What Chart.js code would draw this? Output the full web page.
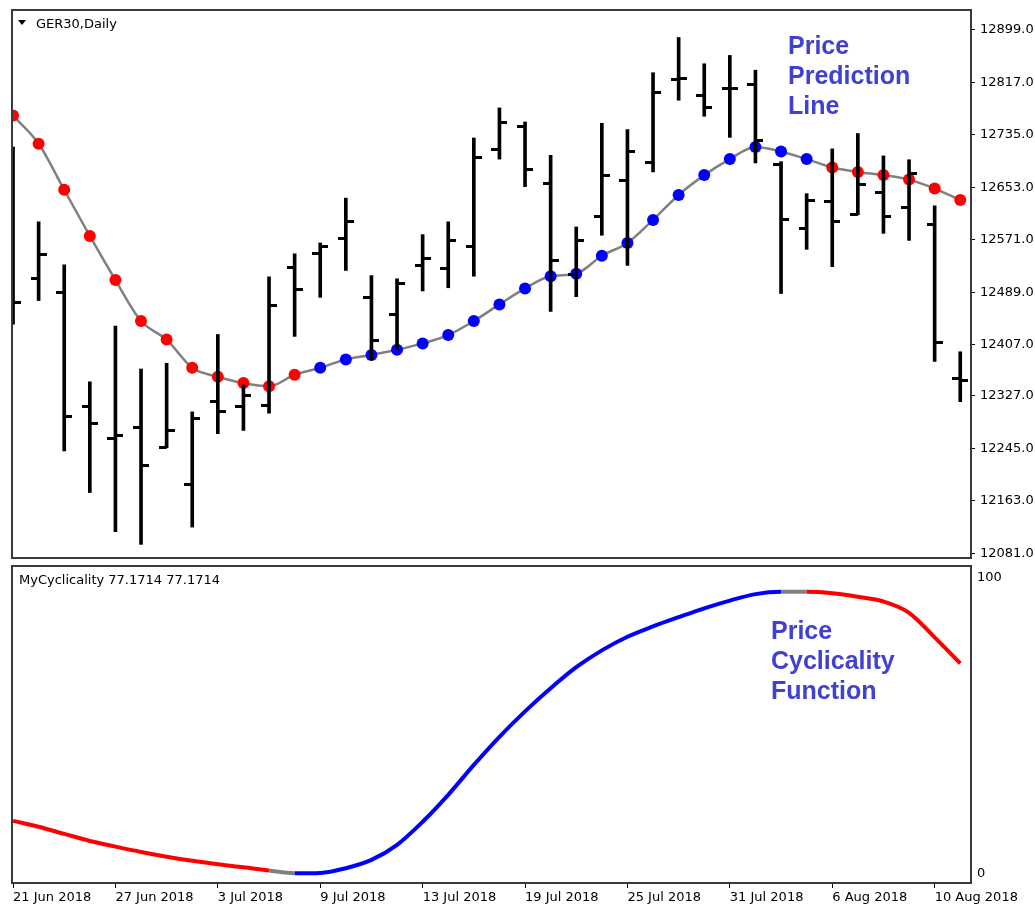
<!DOCTYPE html>
<html>
<head>
<meta charset="utf-8">
<title>GER30 Daily - MyCyclicality</title>
<script src="https://cdn.jsdelivr.net/npm/chart.js@4.4.1/dist/chart.umd.min.js"></script>
<style>
  body { margin: 0; background: #fff; }
  #wrap { position: relative; width: 1035px; height: 907px; font-family: 'DejaVu Sans', sans-serif; }
  canvas { position: absolute; left: 0; }
  #price-chart { top: 0; }
  #cycle-chart { top: 564px; }
  .pane-title { position: absolute; font-size: 13px; line-height: 15px; color: #000; white-space: nowrap; }
  .note { position: absolute; font: bold 25px/30px 'Liberation Sans', Arial, sans-serif; color: #4040d2; white-space: nowrap; }
  .arrow { position: absolute; left: 18px; top: 20px; width: 0; height: 0;
           border-left: 4.5px solid transparent; border-right: 4.5px solid transparent; border-top: 5px solid #000; }
</style>
</head>
<body>
<div id="wrap">
  <canvas id="price-chart" width="1035" height="564"></canvas>
  <canvas id="cycle-chart" width="1035" height="343"></canvas>
  <div class="arrow"></div>
  <div class="pane-title" style="left:36px;top:16px">GER30,Daily</div>
  <div class="pane-title" style="left:19px;top:572px">MyCyclicality 77.1714 77.1714</div>
  <div class="note" style="left:788px;top:30px">Price<br>Prediction<br>Line</div>
  <div class="note" style="left:771px;top:615px">Price<br>Cyclicality<br>Function</div>
</div>

<script>
// one bar per trading day
const dates = [
  '21 Jun 2018', '22 Jun 2018', '25 Jun 2018', '26 Jun 2018', '27 Jun 2018', '28 Jun 2018', '29 Jun 2018',
  '2 Jul 2018', '3 Jul 2018', '4 Jul 2018', '5 Jul 2018', '6 Jul 2018',
  '9 Jul 2018', '10 Jul 2018', '11 Jul 2018', '12 Jul 2018', '13 Jul 2018',
  '16 Jul 2018', '17 Jul 2018', '18 Jul 2018', '19 Jul 2018', '20 Jul 2018',
  '23 Jul 2018', '24 Jul 2018', '25 Jul 2018', '26 Jul 2018', '27 Jul 2018',
  '30 Jul 2018', '31 Jul 2018', '1 Aug 2018', '2 Aug 2018', '3 Aug 2018',
  '6 Aug 2018', '7 Aug 2018', '8 Aug 2018', '9 Aug 2018', '10 Aug 2018', '13 Aug 2018'
];
const dateTicks = ['21 Jun 2018', '27 Jun 2018', '3 Jul 2018', '9 Jul 2018', '13 Jul 2018',
  '19 Jul 2018', '25 Jul 2018', '31 Jul 2018', '6 Aug 2018', '10 Aug 2018'];
const priceTicks = [12899, 12817, 12735, 12653, 12571, 12489, 12407, 12327, 12245, 12163, 12081];
const cycleTicks = [0, 100];

// GER30 daily OHLC
const open = [12690, 12510, 12488, 12310, 12260, 12278, 12247, 12188, 12318, 12310,
  12312, 12528, 12550, 12573, 12481, 12454, 12531, 12526, 12561, 12712,
  12748, 12659, 12517, 12608, 12663, 12691, 12821, 12796, 12807, 12814,
  12688, 12588, 12630, 12611, 12645, 12622, 12595, 12354];
const high = [12716, 12599, 12532, 12349, 12436, 12369, 12378, 12302, 12423, 12344,
  12513, 12549, 12566, 12636, 12515, 12510, 12579, 12599, 12730, 12777,
  12755, 12703, 12591, 12753, 12743, 12832, 12887, 12846, 12859, 12836,
  12693, 12643, 12713, 12737, 12702, 12696, 12624, 12396];
const low = [12439, 12476, 12241, 12176, 12115, 12095, 12246, 12122, 12268, 12273,
  12300, 12420, 12481, 12523, 12383, 12399, 12491, 12496, 12514, 12697,
  12654, 12459, 12482, 12578, 12531, 12677, 12789, 12764, 12731, 12691,
  12487, 12556, 12529, 12610, 12581, 12570, 12381, 12318];
const close = [12473, 12548, 12295, 12284, 12265, 12218, 12273, 12291, 12302, 12327,
  12469, 12493, 12560, 12600, 12414, 12503, 12541, 12570, 12699, 12754,
  12680, 12538, 12570, 12672, 12709, 12801, 12823, 12778, 12808, 12726,
  12602, 12633, 12600, 12657, 12608, 12674, 12410, 12351];

// price prediction line and its phase (dot colour)
const prediction = [12765, 12721, 12649, 12577, 12508, 12444, 12415, 12371, 12357, 12347,
  12342, 12360, 12371, 12384, 12391, 12399, 12409, 12422, 12444, 12470,
  12495, 12514, 12518, 12546, 12566, 12602, 12641, 12672, 12697, 12716,
  12709, 12697, 12684, 12677, 12672, 12665, 12651, 12633];
const predictionPhase = ['dn', 'dn', 'dn', 'dn', 'dn', 'dn', 'dn', 'dn', 'dn', 'dn',
  'dn', 'dn', 'up', 'up', 'up', 'up', 'up', 'up', 'up', 'up',
  'up', 'up', 'up', 'up', 'up', 'up', 'up', 'up', 'up', 'up',
  'up', 'up', 'dn', 'dn', 'dn', 'dn', 'dn', 'dn'];

// MyCyclicality (0..100) and the phase of each segment
const cyclicality = [17.7, 15.7, 13.3, 10.9, 9.0, 7.2, 5.6, 4.2, 3.0, 2.0,
  0.9, 0.0, 0.1, 1.7, 4.5, 9.6, 17.4, 26.5, 36.6, 46.1,
  54.7, 62.5, 69.6, 75.3, 79.9, 83.4, 86.5, 89.5, 92.1, 94.3,
  95.1, 95.1, 94.6, 93.4, 91.8, 88.0, 79.7, 70.9];
const cyclePhase = ['dn', 'dn', 'dn', 'dn', 'dn', 'dn', 'dn', 'dn', 'dn', 'dn',
  'flat', 'up', 'up', 'up', 'up', 'up', 'up', 'up', 'up', 'up',
  'up', 'up', 'up', 'up', 'up', 'up', 'up', 'up', 'up', 'up',
  'flat', 'dn', 'dn', 'dn', 'dn', 'dn', 'dn', 'dn'];


const phaseColors = { dn: '#ff0000', up: '#0000ff', flat: '#808080' };
const xMin = -0.04;
const xMax = 37.42;

Chart.defaults.font.family = "'DejaVu Sans', sans-serif";
Chart.defaults.font.size = 13;
Chart.defaults.color = '#000';

// frame around each pane
const paneFrame = {
  id: 'paneFrame',
  afterDraw(chart) {
    const { ctx, chartArea: a } = chart;
    ctx.save();
    ctx.strokeStyle = '#3a3a3a';
    ctx.lineWidth = 2;
    ctx.strokeRect(a.left, a.top, a.right - a.left, a.bottom - a.top);
    ctx.restore();
  }
};

// open tick sits left of the bar, close tick right of it
function tickMark(side) {
  const c = document.createElement('canvas');
  c.width = 16;
  c.height = 3;
  const g = c.getContext('2d');
  g.fillStyle = '#000';
  g.fillRect(side === 'left' ? 0 : 8, 0, 8, 3);
  return c;
}

const points = arr => arr.map((v, i) => ({ x: i, y: v }));

// top pane: price bars + prediction line
const priceCanvas = document.getElementById('price-chart');
let priceChart = new Chart(priceCanvas, {
  type: 'bar',
  data: {
    datasets: [{
      type: 'bar',
      data: dates.map((d, i) => ({ x: i, y: [low[i], high[i]] })),
      backgroundColor: '#000',
      barThickness: 3
    }, {
      type: 'line',
      data: points(open),
      showLine: false,
      pointStyle: tickMark('left'),
      pointRadius: 3
    }, {
      type: 'line',
      data: points(close),
      showLine: false,
      pointStyle: tickMark('right'),
      pointRadius: 3
    }, {
      type: 'line',
      data: points(prediction),
      borderColor: '#808080',
      borderWidth: 2.5,
      cubicInterpolationMode: 'monotone',
      pointRadius: 6,
      pointBorderWidth: 0,
      pointBackgroundColor: predictionPhase.map(p => phaseColors[p])
    }]
  },
  options: {
    responsive: false,
    animation: false,
    events: [],
    layout: { padding: { top: 10, left: 12, right: 0, bottom: 2 } },
    plugins: { legend: { display: false }, tooltip: { enabled: false } },
    scales: {
      x: { type: 'linear', display: false, min: xMin, max: xMax, offset: false },
      y: {
        type: 'linear',
        position: 'right',
        min: 12073.7,
        max: 12930,
        afterBuildTicks: s => { s.ticks = priceTicks.map(v => ({ value: v })); },
        ticks: { padding: 5, callback: v => v.toFixed(1) },
        grid: { drawOnChartArea: false, tickLength: 4, color: '#000' },
        border: { display: false },
        afterFit: s => { s.width = 64; s.paddingTop = 0; s.paddingBottom = 0; }
      }
    }
  },
  plugins: [paneFrame]
});

// bottom pane: cyclicality function
const cycleCanvas = document.getElementById('cycle-chart');
let cycleChart = new Chart(cycleCanvas, {
  type: 'line',
  data: {
    datasets: [{
      data: points(cyclicality),
      borderColor: '#0000ff',
      borderWidth: 4,
      pointRadius: 0,
      cubicInterpolationMode: 'monotone',
      segment: { borderColor: c => phaseColors[cyclePhase[c.p0DataIndex]] }
    }]
  },
  options: {
    responsive: false,
    animation: false,
    events: [],
    layout: { padding: { top: 2, left: 12, right: 0, bottom: 0 } },
    plugins: { legend: { display: false }, tooltip: { enabled: false } },
    scales: {
      x: {
        type: 'linear',
        min: xMin,
        max: xMax,
        offset: false,
        afterBuildTicks: s => { s.ticks = dateTicks.map(d => ({ value: dates.indexOf(d) })); },
        ticks: { align: 'start', autoSkip: false, maxRotation: 0, minRotation: 0, padding: 2,
                 callback: v => dates[v] },
        grid: { drawOnChartArea: false, tickLength: 5, color: '#000' },
        border: { display: false },
        afterFit: s => { s.height = 24; s.paddingLeft = 0; s.paddingRight = 0; }
      },
      y: {
        type: 'linear',
        position: 'right',
        min: -3.3,
        max: 103.8,
        afterBuildTicks: s => { s.ticks = cycleTicks.map(v => ({ value: v })); },
        ticks: { padding: 6 },
        grid: { drawOnChartArea: false, drawTicks: false },
        border: { display: false },
        afterFit: s => { s.width = 64; s.paddingTop = 0; s.paddingBottom = 0; }
      }
    }
  },
  plugins: [paneFrame]
});
</script>
</body>
</html>
